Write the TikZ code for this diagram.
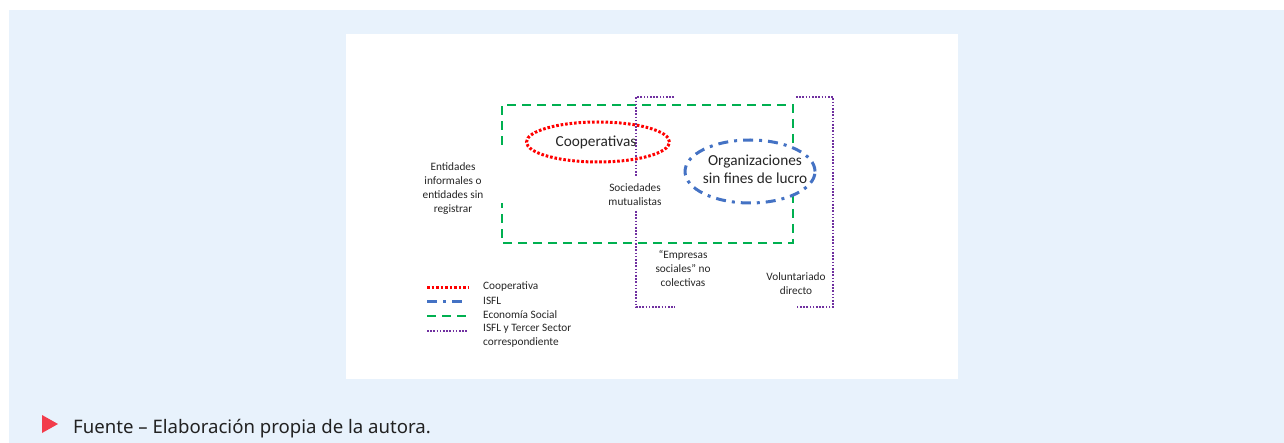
\documentclass[tikz,border=0pt]{standalone}
\usepackage{fontspec}
\setmainfont{Carlito}
\newfontfamily\capfont{Noto Sans}
\usetikzlibrary{shapes.geometric}
\definecolor{bgblue}{HTML}{E8F2FC}
\definecolor{cred}{HTML}{FF0000}
\definecolor{cblue}{HTML}{4472C4}
\definecolor{cgreen}{HTML}{00B050}
\definecolor{cpurple}{HTML}{7030A0}
\definecolor{txt}{HTML}{262626}
\definecolor{captxt}{HTML}{222222}
\definecolor{tri}{HTML}{F23C4B}
\tikzset{
  coopline/.style={draw=cred, line width=3pt, dash pattern=on 2.6pt off 1.9pt},
  isflline/.style={draw=cblue, line width=3pt, dash pattern=on 10pt off 6pt on 3pt off 6pt},
  esline/.style={draw=cgreen, line width=2.3pt, dash pattern=on 9pt off 6pt},
  tsline/.style={draw=cpurple, line width=2pt, dash pattern=on 1.6pt off 1.6pt},
  bigtxt/.style={text=txt, font=\fontsize{15.3}{18}\selectfont, align=center, inner sep=0pt},
  smalltxt/.style={text=txt, font=\fontsize{11.3}{13.9}\selectfont, align=center, inner sep=0pt},
  legtxt/.style={text=txt, font=\fontsize{11.3}{13.9}\selectfont, align=left, inner sep=0pt, anchor=west},
}
\begin{document}
\begin{tikzpicture}[x=1pt,y=-1pt]
\useasboundingbox (0,0) rectangle (1284,443);
\fill[bgblue] (9,10) rectangle (1284,443);
\fill[white] (346,34) rectangle (958,379);
% Economia social (green)
\draw[esline] (502,145) -- (502,105) -- (793,105) -- (793,243) -- (502,243) -- (502,203);
% Tercer sector brackets (purple)
\draw[tsline] (674,97) -- (636,97) -- (636,177);
\draw[tsline] (636,211) -- (636,307) -- (675,307);
\draw[tsline] (796,97) -- (833,97) -- (833,307) -- (796,307);
% Cooperativas
\node[ellipse, coopline, minimum width=143pt, minimum height=40pt, inner sep=0pt] (coopell) at (598,142) {};
\node[bigtxt] (coop) at (596,142) {Cooperativas};
% ISFL
\node[ellipse, isflline, fill=white, minimum width=130pt, minimum height=63pt, inner sep=0pt] (isflell) at (750,171.5) {};
\node[bigtxt] (isfl) at (755,169) {Organizaciones\\sin fines de lucro};
% labels
\node[smalltxt] (entid) at (453,188.5) {Entidades\\informales o\\entidades sin\\registrar};
\node[smalltxt] (socmut) at (635,194.5) {Sociedades\\mutualistas};
\node[smalltxt] (empsoc) at (683,268.5) {“Empresas\\sociales” no\\colectivas};
\node[smalltxt] (volunt) at (796,284) {Voluntariado\\directo};
% legend
\draw[coopline] (427,288) -- (468,288);
\draw[isflline] (427,302) -- (468,302);
\draw[esline] (427,316) -- (468,316);
\draw[tsline] (427,331) -- (468,331);
\node[legtxt] (lg1) at (483,287) {Cooperativa};
\node[legtxt] (lg2) at (483,301) {ISFL};
\node[legtxt] (lg3) at (483,315) {Economía Social};
\node[legtxt] (lg4) at (483,335.5) {ISFL y Tercer Sector\\correspondiente};
% caption
\fill[tri] (42,415) -- (58,424) -- (42,433) -- cycle;
\node[text=captxt, font=\capfont\fontsize{18.6}{22}\selectfont, anchor=base west, inner sep=0pt] (cap) at (73,433) {Fuente – Elaboración propia de la autora.};
\end{tikzpicture}
\end{document}
